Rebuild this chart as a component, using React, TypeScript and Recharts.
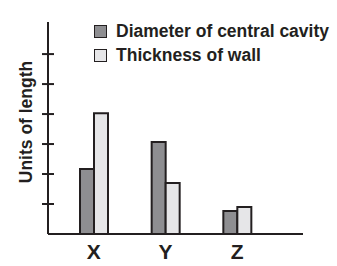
import { BarChart, Bar, XAxis, YAxis, Legend, Label } from 'recharts';

// Relative values (units of length)
const categories = ['X', 'Y', 'Z'];
const cavityDiameter = [2.17, 3.07, 0.77];
const wallThickness = [4.03, 1.7, 0.9];
const yTicks = [1, 2, 3, 4, 5, 6];

const data = categories.map((name, i) => ({
  name,
  cavity: cavityDiameter[i],
  wall: wallThickness[i],
}));

const INK = '#231f20';
const FONT = '"Liberation Sans", Arial, Helvetica, sans-serif';

const CrossTick = (props: any) => {
  const { x, y } = props;
  return <line x1={x} x2={x + 12} y1={y} y2={y} stroke={INK} strokeWidth={2} />;
};

const LegendBox = (props: any) => {
  const { payload } = props;
  return (
    <div style={{ fontFamily: FONT, fontWeight: 700, fontSize: 17.5, color: INK }}>
      {(payload || []).map((entry: any) => (
        <div key={entry.value} style={{ display: 'flex', alignItems: 'center', height: 24 }}>
          <span
            style={{
              display: 'inline-block',
              width: 11,
              height: 11,
              background: entry.color,
              border: `1.5px solid ${INK}`,
              marginRight: 9,
            }}
          />
          <span style={{ whiteSpace: 'nowrap' }}>{entry.value}</span>
        </div>
      ))}
    </div>
  );
};

const YLabel = (props: any) => {
  const { viewBox } = props;
  const x = viewBox.x + 8;
  const y = viewBox.y + viewBox.height / 2 - 6;
  return (
    <text
      x={x}
      y={y}
      transform={`rotate(-90 ${x} ${y})`}
      textAnchor="middle"
      dominantBaseline="central"
      fontFamily={FONT}
      fontWeight={700}
      fontSize={17.5}
      fill={INK}
    >
      Units of length
    </text>
  );
};

const App = () => {
  return (
    <div style={{ position: 'absolute', left: 0, top: 0, width: 337, height: 266, background: '#fff' }}>
      <BarChart
        width={337}
        height={266}
        data={data}
        margin={{ top: 22, right: 34, left: 18, bottom: 2 }}
        barGap={0}
        barSize={14}
      >
        <XAxis
          dataKey="name"
          height={30}
          padding={{ left: 10, right: 30 }}
          axisLine={{ stroke: INK, strokeWidth: 2 }}
          tickLine={false}
          tickMargin={4}
          tick={{ fill: INK, fontSize: 21, fontWeight: 700, fontFamily: FONT }}
        />
        <YAxis
          width={30}
          domain={[0, 7.07]}
          ticks={yTicks}
          allowDataOverflow
          axisLine={{ stroke: INK, strokeWidth: 2 }}
          tickLine={false}
          tickSize={6}
          tickMargin={0}
          tick={<CrossTick />}
        >
          <Label content={<YLabel />} />
        </YAxis>
        <Legend
          layout="vertical"
          align="center"
          verticalAlign="middle"
          wrapperStyle={{ top: 19, left: 94, width: 243 }}
          content={<LegendBox />}
        />
        <Bar
          dataKey="cavity"
          name="Diameter of central cavity"
          fill="#8e8e91"
          stroke={INK}
          strokeWidth={2}
          isAnimationActive={false}
        />
        <Bar
          dataKey="wall"
          name="Thickness of wall"
          fill="#e6e6e8"
          stroke={INK}
          strokeWidth={2}
          isAnimationActive={false}
        />
      </BarChart>
    </div>
  );
};

export default App;
